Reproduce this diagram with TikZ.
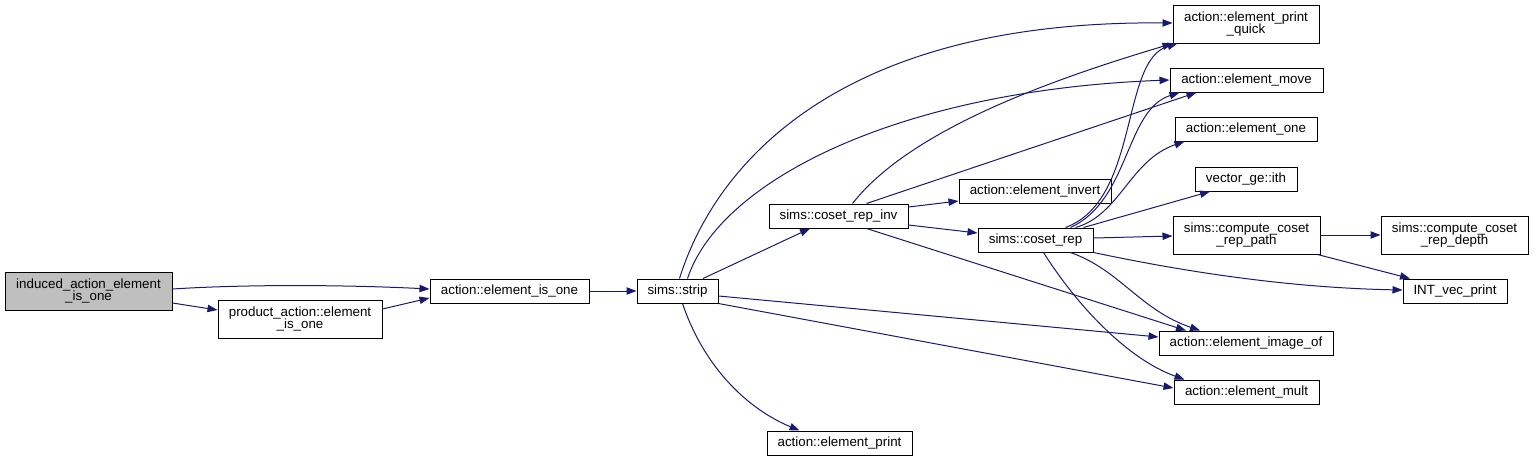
\documentclass[tikz,border=0pt]{standalone}
\usepackage{fontspec}
\setmainfont{Liberation Sans}
\usetikzlibrary{arrows.meta,calc}
\definecolor{edgeblue}{RGB}{25,25,112}
\definecolor{hlgray}{RGB}{191,191,191}
\begin{document}
\begin{tikzpicture}[x=0.75pt,y=-0.75pt,
  fn/.style={draw=black, line width=0.75pt, fill=white, inner sep=0pt, align=center,
    font=\fontsize{10}{9.5}\selectfont, minimum height=18pt},
  tall/.style={minimum height=28.5pt},
  call/.style={draw=edgeblue, line width=0.75pt, -{Triangle[length=7.5pt,width=5.5pt]}, fill=none}]
\useasboundingbox (0,0) rectangle (1533,461);
% nodes
\node[fn, tall, fill=hlgray, minimum width=125.25pt] (ind) at (88.5,291) {induced\_action\_element\\\_is\_one};
\node[fn, tall, minimum width=123pt] (prod) at (300,319) {product\_action::element\\\_is\_one};
\node[fn, minimum width=119.25pt] (eio) at (509.5,291) {action::element\_is\_one};
\node[fn, minimum width=60.75pt] (strip) at (677.5,291) {sims::strip};
\node[fn, minimum width=104.25pt] (cri) at (838.5,216) {sims::coset\_rep\_inv};
\node[fn, minimum width=114pt] (einv) at (1035,191) {action::element\_invert};
\node[fn, minimum width=86.25pt] (cr) at (1035.5,240) {sims::coset\_rep};
\node[fn, minimum width=108.75pt] (eprint) at (839.5,443) {action::element\_print};
\node[fn, tall, minimum width=109.5pt] (epq) at (1246,24) {action::element\_print\\\_quick};
\node[fn, minimum width=114.75pt] (emove) at (1246.5,80) {action::element\_move};
\node[fn, minimum width=106.5pt] (eone) at (1246,129) {action::element\_one};
\node[fn, minimum width=76.5pt] (ith) at (1246,179) {vector\_ge::ith};
\node[fn, tall, minimum width=110.25pt] (ccrp) at (1246.5,235) {sims::compute\_coset\\\_rep\_path};
\node[fn, tall, minimum width=110.25pt] (ccrd) at (1454.5,235) {sims::compute\_coset\\\_rep\_depth};
\node[fn, minimum width=78pt] (ivp) at (1455,291) {INT\_vec\_print};
\node[fn, minimum width=130.5pt] (eimg) at (1246,343) {action::element\_image\_of};
\node[fn, minimum width=108.75pt] (emult) at (1246.5,392) {action::element\_mult};
% edges
\draw[call] ($(ind.east)+(0,-2)$) .. controls (250,284) and (350,285) .. ($(eio.west)+(0,-2)$);
\draw[call] ($(ind.east)+(0,12)$) -- ($(prod.west)+(0,-9)$);
\draw[call] ($(prod.east)+(0,-10)$) -- ($(eio.west)+(0,7)$);
\draw[call] (eio.east) -- (strip.west);
\draw[call] ($(strip.north)+(25.5,0)$) -- ($(cri.south)+(-28.5,0)$);
\draw[call] ($(strip.north)+(2,0)$) .. controls (710,180) and (820,20) .. ($(epq.west)+(0,-1)$);
\draw[call] ($(strip.north)+(10,0)$) .. controls (720,180) and (900,90) .. (emove.west);
\draw[call] ($(strip.east)+(0,5)$) -- ($(eimg.west)+(0,-6)$);
\draw[call] (strip.south east) -- ($(emult.west)+(0,-4)$);
\draw[call] ($(strip.south)+(5,0)$) .. controls (705,370) and (750,410) .. ($(eprint.north)+(-40,0)$);
\draw[call] ($(cri.east)+(0,-9)$) -- ($(einv.west)+(0,10)$);
\draw[call] ($(cri.east)+(0,9)$) -- ($(cr.west)+(0,-7)$);
\draw[call] ($(cri.north)+(14,0)$) .. controls (910,130) and (1050,80) .. (epq.south west);
\draw[call] ($(cri.north)+(28,0)$) -- ($(emove.south)+(-50,0)$);
\draw[call] ($(cri.south)+(28,0)$) -- ($(eimg.north)+(-60,0)$);
\draw[call] ($(cr.north)+(30,0)$) .. controls (1140,200) and (1120,60) .. ($(epq.south west)+(5,0)$);
\draw[call] ($(cr.north)+(35,0)$) .. controls (1130,200) and (1125,110) .. ($(emove.south west)+(10,0)$);
\draw[call] ($(cr.north)+(40,0)$) .. controls (1120,215) and (1130,160) .. ($(eone.south west)+(10,0)$);
\draw[call] ($(cr.north)+(48,0)$) -- ($(ith.south)+(-36,0)$);
\draw[call] ($(cr.east)+(0,-2)$) -- ($(ccrp.west)+(0,1)$);
\draw[call] (cr.south east) .. controls (1200,275) and (1300,288) .. ($(ivp.west)+(0,-1)$);
\draw[call] ($(cr.south)+(35,0)$) .. controls (1120,270) and (1140,310) .. ($(eimg.north)+(-46,0)$);
\draw[call] ($(cr.south)+(8,0)$) .. controls (1080,310) and (1130,360) .. ($(emult.north)+(-62,0)$);
\draw[call] (ccrp.east) -- (ccrd.west);
\draw[call] ($(ccrp.south east)+(-3,0)$) -- ($(ivp.north)+(-45,0)$);
\end{tikzpicture}
\end{document}
